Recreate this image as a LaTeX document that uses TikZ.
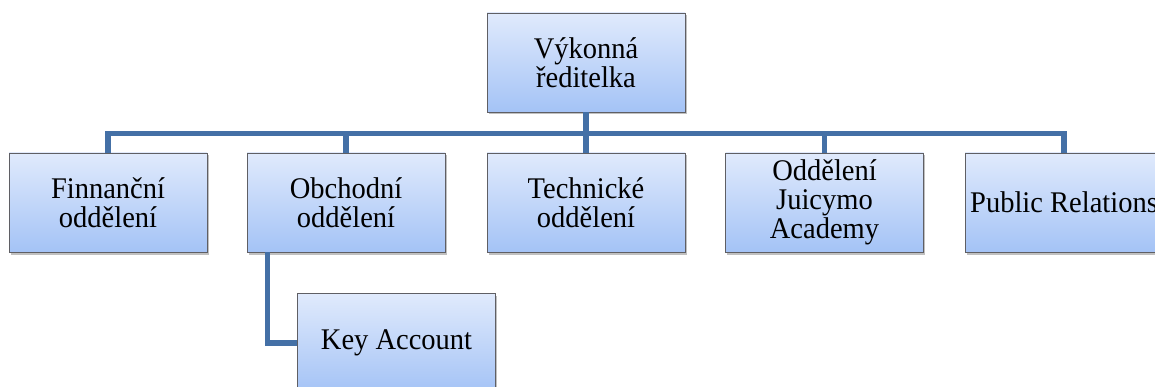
\documentclass[tikz,border=0pt]{standalone}
\usepackage{fontspec}
\setmainfont{Liberation Serif}
\newfontfamily\orgfont[FakeStretch=0.95]{Liberation Serif}
\usetikzlibrary{shadows}
\definecolor{boxtop}{RGB}{224,234,252}
\definecolor{boxbottom}{RGB}{164,195,246}
\definecolor{boxedge}{RGB}{95,95,100}
\definecolor{linkblue}{RGB}{68,112,166}
\tikzset{
  orgbox/.style={draw=boxedge, line width=0.7pt,
    top color=boxtop, bottom color=boxbottom,
    minimum width=198pt, minimum height=99pt, inner sep=0pt,
    align=center, font=\orgfont\fontsize{30}{29}\selectfont,
    drop shadow={shadow xshift=1.5pt, shadow yshift=-2.5pt, opacity=0.35, fill=black!70}},
  link/.style={draw=linkblue, line width=5.5pt}
}
\begin{document}
\begin{tikzpicture}[x=1pt, y=-1pt]
  \useasboundingbox (0,0) rectangle (1155,387);
  \clip (0,0) rectangle (1155,387);
  \fill[white] (0,0) rectangle (1155,387);

  % management
  \node[orgbox] (ceo) at (586,62.5) {Výkonná\\ředitelka};

  % departments
  \node[orgbox] (fin) at (108,202.5) {Finnanční\\oddělení};
  \node[orgbox] (obch) at (346,202.5) {Obchodní\\oddělení};
  \node[orgbox] (tech) at (586,202.5) {Technické\\oddělení};
  \node[orgbox] (acad) at (824.5,202.5) {Oddělení\\Juicymo\\Academy};
  \node[orgbox] (pr) at (1064,202.5) {Public Relations};

  % sub-unit of the sales department
  \node[orgbox] (key) at (396.5,343) {Key Account};

  % connectors through the common bus
  \foreach \d in {fin,obch,tech,acad,pr}
    \draw[link] (ceo.south) -- ++(0,21) -| (\d.north);
  \draw[link] ([xshift=21pt]obch.south west) |- (key.west);
\end{tikzpicture}
\end{document}
